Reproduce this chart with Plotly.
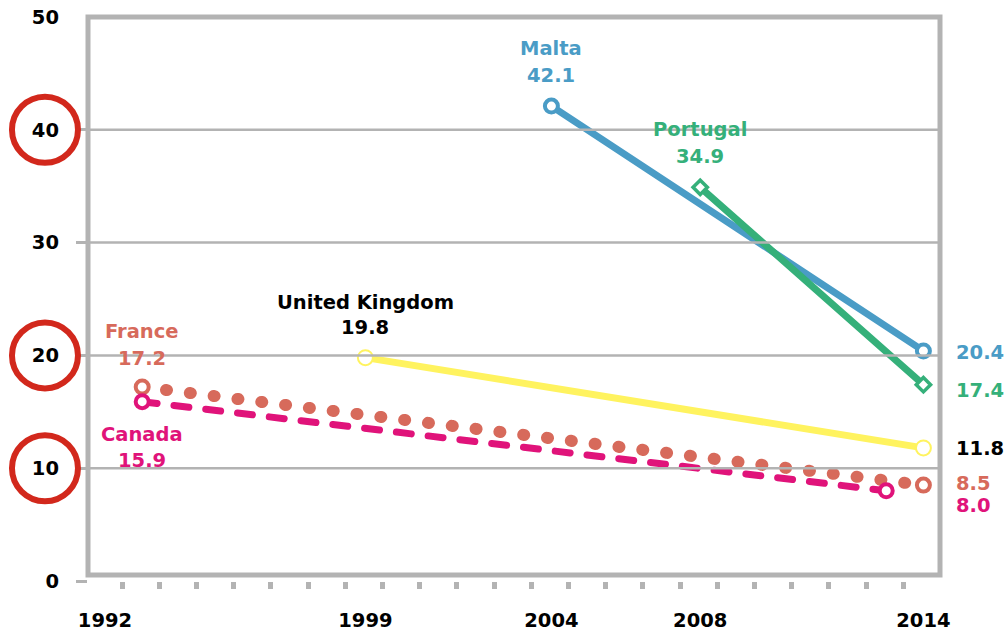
import plotly.graph_objects as go

# ---- data -------------------------------------------------------------
malta_years = [2004, 2014]
malta_values = [42.1, 20.4]

portugal_years = [2008, 2014]
portugal_values = [34.9, 17.4]

uk_years = [1999, 2014]
uk_values = [19.8, 11.8]

france_years = [1993, 2014]
france_values = [17.2, 8.5]

canada_years = [1993, 2013]
canada_values = [15.9, 8.0]

x_tick_years = [1992, 1999, 2004, 2008, 2014]
y_tick_values = [0, 10, 20, 30, 40, 50]
y_stub_values = [0, 10, 20, 30, 40]
grid_values = [10, 20, 30, 40]
highlight_values = [40, 20, 10]

# ---- styling ----------------------------------------------------------
GRAY = "#b3b3b3"
RED = "#d2281c"
FONT = "DejaVu Sans"
FONT_SIZE = 19.5

X_RANGE = [1991.543, 2014.446]
Y_RANGE = [0, 50]
TICK_SHIFT = 0.54          # minor year ticks sit a little left of each year

series = [
    dict(name="France", x=france_years, y=france_values, color="#d76a5b", width=12,
         dash="1px,23px", symbol="circle", msize=13, mline=4,
         name_dy=55, value_dy=28, end_dy=2, text_color="#d76a5b"),
    dict(name="Canada", x=canada_years, y=canada_values, color="#e0137a", width=7,
         dash="15px,17px", symbol="circle", msize=13, mline=4,
         name_dy=-33, value_dy=-59, end_dy=-15, text_color="#e0137a"),
    dict(name="United Kingdom", x=uk_years, y=uk_values, color="#fff35f", width=7,
         dash="solid", symbol="circle", msize=15, mline=2,
         name_dy=55, value_dy=30, end_dy=-1, text_color="#000000"),
    dict(name="Malta", x=malta_years, y=malta_values, color="#4a9cc6", width=7,
         dash="solid", symbol="circle", msize=13, mline=4,
         name_dy=58, value_dy=31, end_dy=-2, text_color="#4a9cc6"),
    dict(name="Portugal", x=portugal_years, y=portugal_values, color="#35b07a", width=7,
         dash="solid", symbol="diamond", msize=11, mline=3.5,
         name_dy=58, value_dy=31, end_dy=-6, text_color="#35b07a"),
]

fig = go.Figure()

for s in series:
    fig.add_trace(go.Scatter(
        x=s["x"], y=s["y"], mode="lines+markers", name=s["name"],
        line=dict(color=s["color"], width=s["width"], dash=s["dash"]),
        marker=dict(symbol=s["symbol"], size=s["msize"], color="white",
                    line=dict(color=s["color"], width=s["mline"])),
        hoverinfo="skip",
    ))

# empty traces so the helper axes (year tick marks, value stubs) get drawn
fig.add_trace(go.Scatter(x=[], y=[], xaxis="x2", yaxis="y", hoverinfo="skip"))
fig.add_trace(go.Scatter(x=[], y=[], xaxis="x", yaxis="y2", hoverinfo="skip"))

label_font = dict(family=FONT, size=FONT_SIZE, weight=700)

for s in series:
    x0, y0 = s["x"][0], s["y"][0]
    fig.add_annotation(x=x0, y=y0, text=s["name"], showarrow=False,
                       xanchor="center", yanchor="middle", yshift=s["name_dy"],
                       font=dict(label_font, color=s["text_color"]))
    fig.add_annotation(x=x0, y=y0, text=f"{y0:.1f}", showarrow=False,
                       xanchor="center", yanchor="middle", yshift=s["value_dy"],
                       font=dict(label_font, color=s["text_color"]))
    y1 = s["y"][-1]
    fig.add_annotation(x=x_tick_years[-1], y=y1, text=f"{y1:.1f}", showarrow=False,
                       xanchor="left", yanchor="middle", xshift=31, yshift=s["end_dy"],
                       font=dict(label_font, color=s["text_color"]))

# horizontal gridlines drawn over the data lines
for v in grid_values:
    fig.add_shape(type="line", xref="paper", x0=0, x1=1, yref="y", y0=v, y1=v,
                  line=dict(color=GRAY, width=2.5), layer="above")

# frame around the plotting area (bottom edge sits just above zero)
fig.add_shape(type="rect", xref="paper", yref="paper", x0=0, x1=1, y0=0.0106, y1=1,
              line=dict(color=GRAY, width=5), fillcolor="rgba(0,0,0,0)", layer="above")

# red rings around highlighted axis values
for v in highlight_values:
    fig.add_shape(type="circle", xref="paper", xsizemode="pixel", xanchor=-0.0505,
                  x0=-33, x1=33, yref="y", ysizemode="pixel", yanchor=v, y0=-33, y1=33,
                  line=dict(color=RED, width=6), fillcolor="rgba(0,0,0,0)", layer="above")

tick_font = dict(family=FONT, size=FONT_SIZE, weight=700, color="black")

fig.update_layout(
    width=1006, height=633,
    margin=dict(l=88, r=66, t=17, b=52, autoexpand=False),
    plot_bgcolor="white", paper_bgcolor="white",
    showlegend=False,
    xaxis=dict(range=X_RANGE, tickvals=x_tick_years, ticks="", showgrid=False,
               zeroline=False, showline=False, tickfont=tick_font, ticklabelstandoff=25,
               automargin=False),
    xaxis2=dict(overlaying="x", anchor="y", side="bottom",
                range=[X_RANGE[0] + TICK_SHIFT, X_RANGE[1] + TICK_SHIFT],
                tickmode="linear", tick0=1992, dtick=1, ticks="outside", ticklen=7,
                tickwidth=5, tickcolor=GRAY, showticklabels=False, showgrid=False,
                zeroline=False, showline=False, automargin=False),
    yaxis=dict(range=Y_RANGE, tickvals=y_tick_values, ticks="", showgrid=False,
               zeroline=False, showline=False, tickfont=tick_font, ticklabelstandoff=28,
               automargin=False),
    yaxis2=dict(overlaying="y", anchor="x", side="left", range=Y_RANGE,
                tickvals=y_stub_values, ticks="outside", ticklen=11, tickwidth=2.5,
                tickcolor=GRAY, showticklabels=False, showgrid=False, zeroline=False,
                showline=False, automargin=False),
)

# round caps for the dotted / dashed series lines
round_caps = (
    "var s=document.createElement('style');"
    "s.textContent='.scatterlayer .js-line{stroke-linecap:round}';"
    "document.head.appendChild(s);"
)

fig.write_html("out.html", post_script=round_caps)
